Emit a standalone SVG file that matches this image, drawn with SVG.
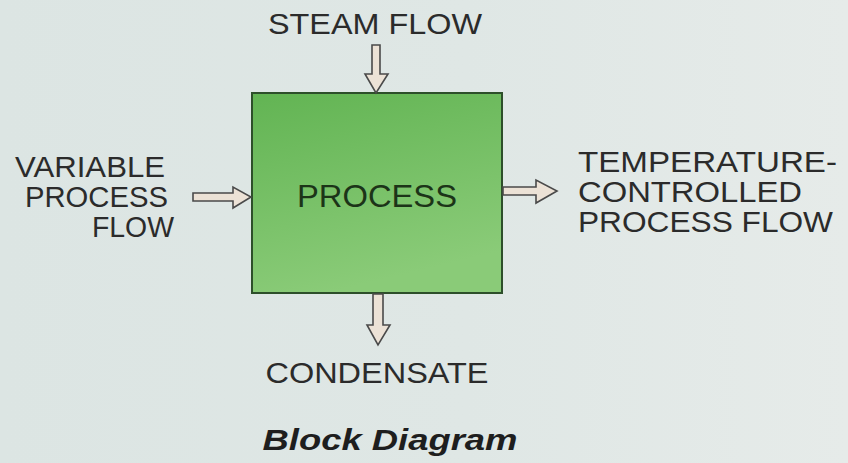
<svg xmlns="http://www.w3.org/2000/svg" width="848" height="463" viewBox="0 0 848 463">
<defs>
<linearGradient id="bg" x1="0" y1="0" x2="1" y2="0">
<stop offset="0" stop-color="#dce5e3"/>
<stop offset="0.55" stop-color="#dfe7e5"/>
<stop offset="1" stop-color="#e6ebe9"/>
</linearGradient>
<linearGradient id="g" x1="0" y1="0" x2="0.3" y2="1">
<stop offset="0" stop-color="#62b453"/>
<stop offset="1" stop-color="#8acb78"/>
</linearGradient>
<style>
.t{font-family:"Liberation Sans",Arial,sans-serif;font-size:30px;fill:#2b2b2b}
.ar{fill:#ece2d6;stroke:#4a4a4a;stroke-width:1.6;stroke-linejoin:miter}
</style>
</defs>
<rect width="848" height="463" fill="url(#bg)"/>
<g id="process">
<rect x="252" y="93" width="250" height="200" fill="url(#g)" stroke="#2d4f2a" stroke-width="2"/>
<text class="t" x="377" y="207" text-anchor="middle" textLength="160" lengthAdjust="spacingAndGlyphs" style="fill:#1c3418;font-size:31px">PROCESS</text>
</g>
<g id="steam">
<text class="t" x="375" y="34" text-anchor="middle" textLength="214" lengthAdjust="spacingAndGlyphs">STEAM FLOW</text>
</g>
<g id="variable">
<text class="t" x="165" y="177" text-anchor="end" textLength="150" lengthAdjust="spacingAndGlyphs">VARIABLE</text>
<text class="t" x="168" y="207" text-anchor="end" textLength="143" lengthAdjust="spacingAndGlyphs">PROCESS</text>
<text class="t" x="174" y="237" text-anchor="end" textLength="82" lengthAdjust="spacingAndGlyphs">FLOW</text>
</g>
<g id="controlled">
<text class="t" x="578" y="172" textLength="259" lengthAdjust="spacingAndGlyphs">TEMPERATURE-</text>
<text class="t" x="578" y="202" textLength="224" lengthAdjust="spacingAndGlyphs">CONTROLLED</text>
<text class="t" x="578" y="232" textLength="255" lengthAdjust="spacingAndGlyphs">PROCESS FLOW</text>
</g>
<g id="condensate">
<text class="t" x="377" y="383" text-anchor="middle" textLength="223" lengthAdjust="spacingAndGlyphs">CONDENSATE</text>
</g>
<g id="caption">
<text class="t" x="390" y="450" text-anchor="middle" textLength="255" lengthAdjust="spacingAndGlyphs" style="font-weight:bold;font-style:italic;fill:#1e1e1e">Block Diagram</text>
</g>
<g id="connectors">
<path class="ar" d="M372,45 H380 V74 H388 L376,93 L365,74 H372 Z"/>
<path class="ar" d="M193,193 H233 V187 L251,197 L233,208 V201 H193 Z"/>
<path class="ar" d="M503,187 H536 V180 L557,191 L536,203 V195 H503 Z"/>
<path class="ar" d="M373,294 H383 V325 H390 L378,345 L367,325 H373 Z"/>
</g>
</svg>
